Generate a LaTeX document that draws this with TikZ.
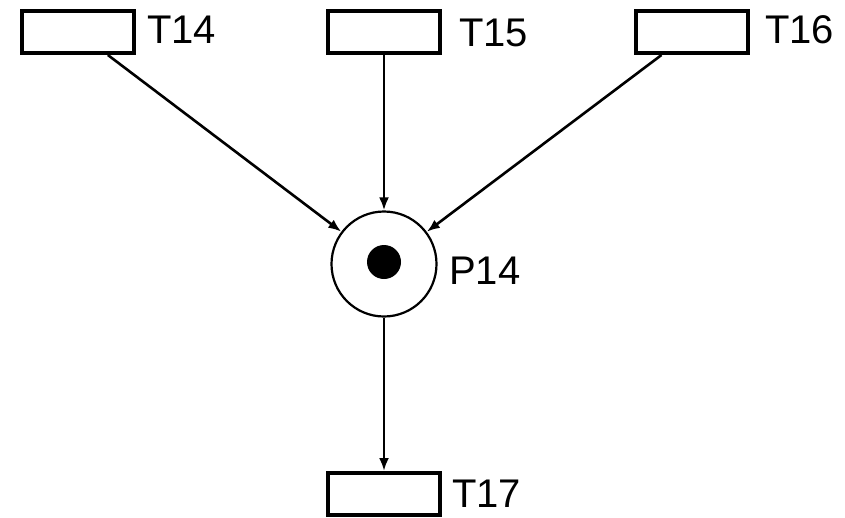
\documentclass[tikz,border=0pt]{standalone}
\usepackage{fontspec}
\setmainfont{Liberation Sans}
\usetikzlibrary{arrows.meta}
\begin{document}
\begin{tikzpicture}[x=1pt,y=-1pt,
  trans/.style={draw=black,line width=4pt,minimum width=112pt,minimum height=42pt,inner sep=0pt,fill=white},
  place/.style={circle,draw=black,line width=2.2pt,minimum size=105pt,inner sep=0pt},
  tok/.style={circle,fill=black,minimum size=34pt,inner sep=0pt},
  lbl/.style={font=\fontsize{40}{40}\selectfont,inner sep=0pt,anchor=west},
  arc/.style={line width=2.6pt,-{Latex[length=13pt,width=10pt]}}]
\useasboundingbox (0,0) rectangle (845,517);
\node[trans] (t14) at (77.5,32) {};
\node[trans] (t15) at (384,32) {};
\node[trans] (t16) at (692,32) {};
\node[trans] (t17) at (384,494) {};
\node[place] (p14) at (384,264) {};
\node[tok] (k) at (384,262) {};
\node[lbl] (l14) at (147,30) {T14};
\node[lbl] (l15) at (459,33) {T15};
\node[lbl] (l16) at (765,30) {T16};
\node[lbl] (lp) at (449,271) {P14};
\node[lbl] (l17) at (452,494) {T17};
\draw[arc] (t14) -- (p14);
\draw[arc] (t15) -- (p14);
\draw[arc] (t16) -- (p14);
\draw[arc] (p14) -- (t17);
\end{tikzpicture}
\end{document}
